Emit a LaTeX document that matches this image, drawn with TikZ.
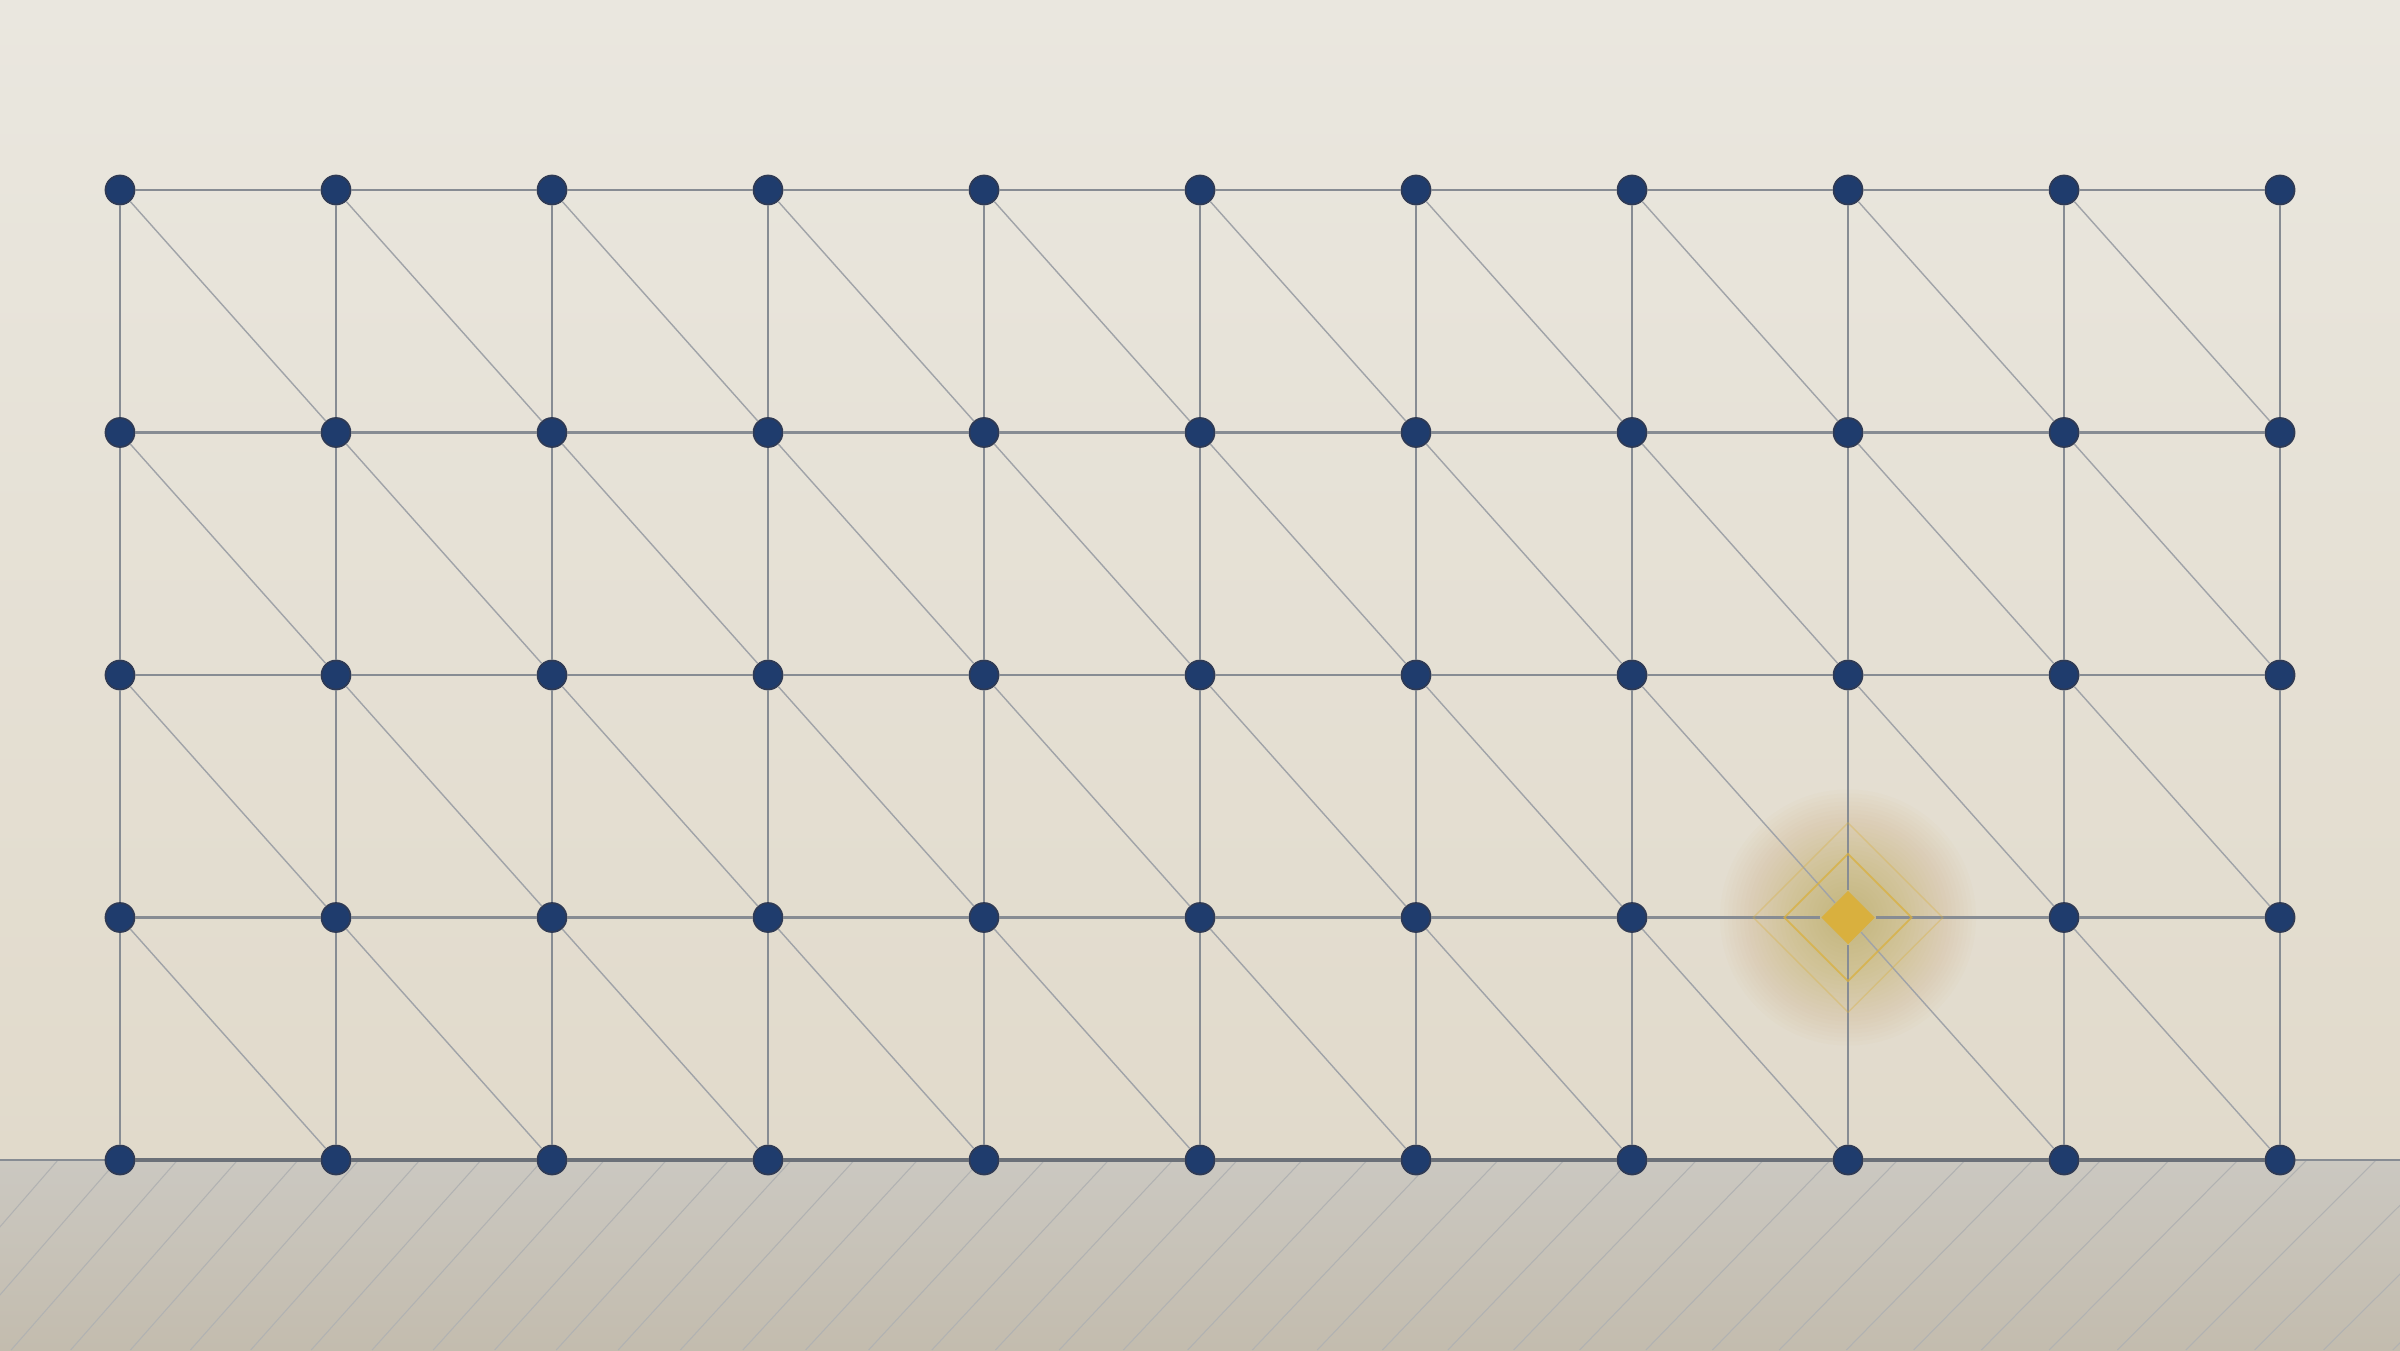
\documentclass[tikz,border=0pt]{standalone}
\usepackage{tikz}
\usetikzlibrary{shapes.geometric}
\definecolor{walltop}{HTML}{EAE7DF}
\definecolor{wallmid}{HTML}{EFECE4}
\definecolor{wallbot}{HTML}{E1DACB}
\definecolor{floortop}{HTML}{CBC8C1}
\definecolor{floorbot}{HTML}{C3BCAE}
\definecolor{navy}{HTML}{1F3C6D}
\definecolor{navyrim}{HTML}{2E3A55}
\definecolor{rod}{HTML}{878C93}
\definecolor{rodlight}{HTML}{A0A3A8}
\definecolor{rodbase}{HTML}{6B7078}
\definecolor{gold}{HTML}{D9B03E}
\definecolor{glow}{HTML}{C29B33}

\begin{document}
\begin{tikzpicture}[>=stealth,
    dot/.style={circle, fill=navy, draw=navyrim, line width=.5pt, minimum size=.29cm, inner sep=0pt},
    gem/.style={diamond, fill=gold, minimum size=.54cm, inner sep=0pt},
    ring/.style={diamond, draw=gold, inner sep=0pt},
    bar/.style={draw=rod, line width=.65pt},
    base/.style={draw=rodbase, line width=.9pt},
    brace/.style={draw=rodlight, line width=.4pt},
    hatch/.style={draw=rodlight!60!floortop, line width=.3pt}]
\useasboundingbox (0,0) rectangle (24,13.5);
% wall and floor
\shade[top color=walltop, middle color=wallmid, bottom color=wallbot] (0,1.9) rectangle (24,13.5);
\shade[top color=floortop, bottom color=floorbot] (0,0) rectangle (24,1.9);
\begin{scope}
\clip (0,0) rectangle (24,1.9);
\foreach \k in {-3,...,40}
    \draw[hatch] ({0.58+0.595*\k+0.00136*(\k)*(\k)},1.9) -- ++({-1.65-0.007*\k},-1.9);
\end{scope}
\draw[draw=rod, line width=.45pt] (0,1.9) -- (24,1.9);
% glow behind the marked joint
\coordinate (glowc) at (1.2+2.16*8, 11.6-2.425*3);
\foreach \r in {0.04,0.08,...,1.3}
    \fill[glow, opacity=.018] (glowc) circle (\r);
% joints
\foreach \i in {0,...,10}
\foreach \j in {0,...,4}
{
    \ifnum\numexpr\i*10+\j\relax=83 \def\kind{gem}\else\def\kind{dot}\fi
    \node[\kind] (n-\i-\j) at (1.2+2.16*\i, 11.6-2.425*\j) {};
}
% members
\foreach \i in {0,...,9}
\foreach \j in {0,...,4}
{
    \pgfmathtruncatemacro\ii{\i+1}
    \pgfmathtruncatemacro\jj{\j+1}
    \ifnum\j=4
        \draw[base] (n-\i-\j) -- (n-\ii-\j);
    \else
        \draw[bar] (n-\i-\j) -- (n-\ii-\j);
        \draw[brace] (n-\i-\j) -- (n-\ii-\jj);
    \fi
}
\foreach \i in {0,...,10}
\foreach \j in {0,...,3}
{
    \pgfmathtruncatemacro\jj{\j+1}
    \draw[bar] (n-\i-\j) -- (n-\i-\jj);
}
\node[ring, minimum size=1.28cm, line width=.5pt, draw opacity=.75] (ring-a) at (n-8-3) {};
\node[ring, minimum size=1.9cm, line width=.4pt, draw opacity=.35] (ring-b) at (n-8-3) {};
\end{tikzpicture}
\end{document}
